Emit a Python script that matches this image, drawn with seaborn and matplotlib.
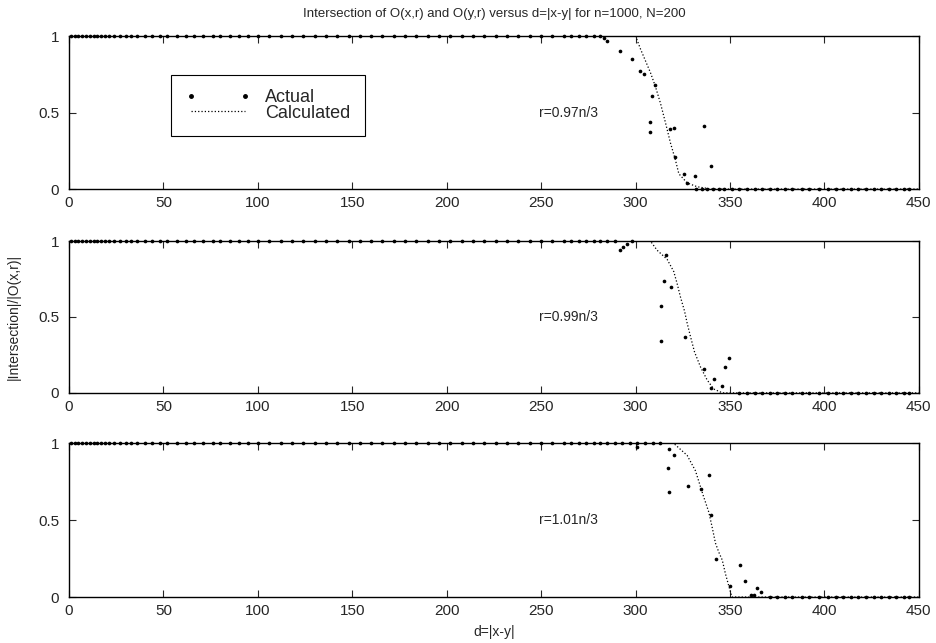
import numpy as np
import pandas as pd
import seaborn as sns
import matplotlib.pyplot as plt
from matplotlib.lines import Line2D

# points sitting on the y=1 plateau (d values), shared by all panels up to each cut-off
high_d = [1, 3, 5, 7, 9, 11, 13, 15, 17, 19, 21, 24, 27, 30, 33, 36, 40, 44, 48, 52,
          57, 62, 66, 71, 76, 80, 85, 90, 95, 100, 106, 112, 118, 124, 130, 136, 142,
          148, 154, 160, 166, 172, 178, 184, 190, 196, 202, 208, 214, 220, 226, 232,
          238, 244, 250, 256, 262, 266, 270, 274, 278, 281, 285, 289, 293, 297, 301,
          305, 309, 313]
# points sitting on the y=0 plateau
low_d = [332, 335, 338, 341, 344, 347, 351, 355, 359, 363, 367, 371, 375, 379, 383,
         388, 392, 397, 402, 406, 410, 414, 418, 422, 426, 430, 434, 438, 442, 445]

panels = ["r=0.97n/3", "r=0.99n/3", "r=1.01n/3"]
high_cut = [282, 290, 314]
low_start = [331, 352, 370]

# transition points of the measured data
act1_d = [283.2, 284.9, 292.0, 298.2, 302.6, 304.4, 310.5, 308.8, 307.5, 307.9, 318.1,
          320.6, 321.1, 336.1, 339.7, 325.6, 331.4, 327.3]
act1_y = [0.99, 0.965, 0.90, 0.85, 0.77, 0.75, 0.68, 0.61, 0.44, 0.37, 0.39, 0.40,
          0.21, 0.41, 0.15, 0.10, 0.085, 0.04]
act2_d = [292.0, 293.4, 295.2, 315.0, 319.0, 313.6, 313.2, 315.9, 326.1, 336.1, 341.4,
          339.7, 345.9, 347.6, 349.4, 298.0]
act2_y = [0.94, 0.96, 0.98, 0.74, 0.70, 0.57, 0.34, 0.91, 0.37, 0.16, 0.09, 0.03,
          0.046, 0.17, 0.23, 1.0]
act3_d = [300.8, 317.6, 320.2, 317.3, 317.6, 327.9, 334.4, 338.8, 340.2, 342.7, 349.9,
          355.2, 358.2, 364.4, 366.5, 360.9, 362.6]
act3_y = [0.976, 0.96, 0.92, 0.84, 0.68, 0.72, 0.70, 0.79, 0.53, 0.25, 0.07, 0.21,
          0.107, 0.06, 0.03, 0.01, 0.01]

# calculated curves
calc1_d = [0, 300, 302.6, 307.9, 310.5, 313.2, 315.9, 318.5, 321.1, 322.9, 327.3, 332.6, 340, 450]
calc1_y = [1, 1, 0.915, 0.76, 0.67, 0.56, 0.43, 0.30, 0.19, 0.10, 0.04, 0.015, 0, 0]
calc2_d = [0, 307.9, 311.4, 316.7, 320.2, 322.0, 323.8, 325.9, 327.3, 329.1, 331.2, 334.4,
           337.9, 341.4, 346, 450]
calc2_y = [1, 1, 0.94, 0.88, 0.80, 0.72, 0.63, 0.54, 0.46, 0.37, 0.27, 0.17, 0.085,
           0.025, 0, 0]
calc3_d = [0, 320, 327.3, 331.7, 333.5, 335.8, 338.8, 340.6, 342.3, 344.1, 345.9, 347.6,
           349.4, 351, 450]
calc3_y = [1, 1, 0.92, 0.82, 0.75, 0.66, 0.55, 0.45, 0.35, 0.29, 0.24, 0.15, 0.07, 0, 0]

actual = [(act1_d, act1_y), (act2_d, act2_y), (act3_d, act3_y)]
calc = [(calc1_d, calc1_y), (calc2_d, calc2_y), (calc3_d, calc3_y)]

sns.set_style("ticks")
plt.rcParams["font.family"] = ["Liberation Sans", "DejaVu Sans"]
plt.rcParams["xtick.direction"] = "in"
plt.rcParams["ytick.direction"] = "in"

fig = plt.figure(figsize=(9.36, 6.43), dpi=100)
rects = [[0.0737, 0.706, 0.908, 0.238],
         [0.0737, 0.389, 0.908, 0.236],
         [0.0737, 0.0715, 0.908, 0.2395]]

for i, rect in enumerate(rects):
    ax = fig.add_axes(rect)
    hd = [d for d in high_d if d < high_cut[i]]
    ld = [d for d in low_d if d > low_start[i]]
    ad, ay = actual[i]
    df = pd.DataFrame({"d": hd + ld + ad,
                       "v": [1.0] * len(hd) + [0.0] * len(ld) + ay})
    sns.scatterplot(data=df, x="d", y="v", ax=ax, color="black", s=7, marker="o",
                    linewidth=0, legend=False, clip_on=False, zorder=3)
    cd, cy = calc[i]
    sns.lineplot(x=cd, y=cy, ax=ax, color="black", linestyle=":", linewidth=0.9,
                 sort=False, estimator=None, legend=False)
    ax.set_xlim(0, 450)
    ax.set_ylim(0, 1)
    ax.set_xticks(range(0, 451, 50))
    ax.set_yticks([0, 0.5, 1])
    ax.set_yticklabels(["0", "0.5", "1"])
    ax.tick_params(top=True, right=True, labelsize=11, length=5, width=0.8)
    ax.tick_params(axis="x", pad=5)
    ax.tick_params(axis="y", pad=7)
    for s in ax.spines.values():
        s.set_linewidth(1.0)
        s.set_color("black")
    ax.set_xlabel("")
    ax.set_ylabel("")
    ax.text(249, 0.5, panels[i], fontsize=10, va="center", ha="left")

    if i == 0:
        ax.set_title("Intersection of O(x,r) and O(y,r) versus d=|x-y| for n=1000, N=200",
                     fontsize=9.5, pad=14)
        handles = [Line2D([], [], ls="none", marker="o", ms=2.5, color="black"),
                   Line2D([], [], ls=":", lw=0.9, color="black")]
        leg = ax.legend(handles, ["Actual", "Calculated"], loc="upper left",
                        bbox_to_anchor=(0.12, 0.745), borderaxespad=0, fontsize=13,
                        numpoints=2, handlelength=3.6, handletextpad=0.8,
                        labelspacing=-0.1, fancybox=False, framealpha=1,
                        edgecolor="black", borderpad=0.8)
        leg.get_frame().set_linewidth(0.8)
    if i == 2:
        ax.set_xlabel("d=|x-y|", fontsize=10, labelpad=5)

fig.text(0.015, 0.507, "|Intersection|/|O(x,r)|", rotation=90, fontsize=10,
         va="center", ha="center")

fig.savefig("out.png", dpi=100)
